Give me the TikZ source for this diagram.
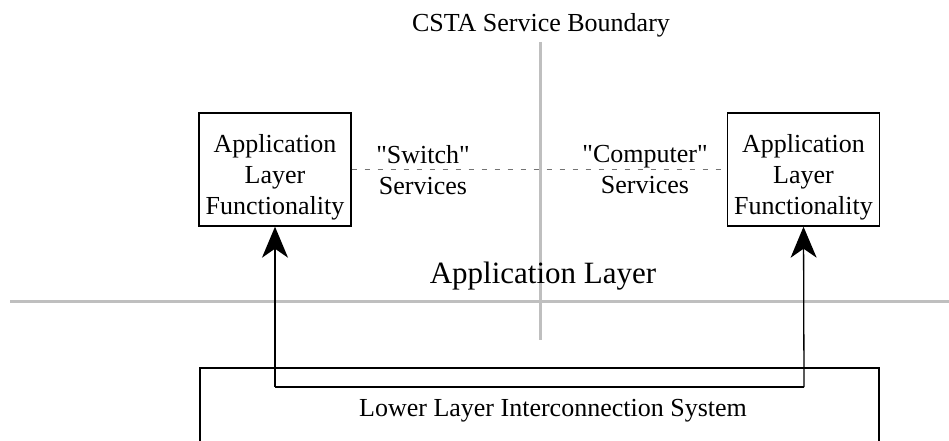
\documentclass[tikz,border=0pt]{standalone}
\usepackage{fontspec}
\setmainfont{Liberation Serif}
\usetikzlibrary{arrows.meta}
\begin{document}
\begin{tikzpicture}[x=1pt,y=-1pt,
  txt/.style={font=\fontsize{26}{31}\selectfont, inner sep=0pt, align=center},
  funcbox/.style={draw, line width=1.4pt, minimum width=152pt, minimum height=113pt, inner sep=0pt},
  boundary/.style={draw=black!25, line width=3pt},
  link/.style={line width=1.3pt, -{Stealth[length=31pt,width=26pt,inset=9pt]}},
  svc/.style={draw=black!55, line width=1pt, dash pattern=on 5pt off 8pt}
]
\useasboundingbox (0,0) rectangle (949,441);
\node[txt] (title) at (541,25) {CSTA Service Boundary};
\coordinate (vtop) at (540,42);
\coordinate (vbot) at (540,340);
\coordinate (hl) at (10,301);
\coordinate (hr) at (949,301);
\draw[boundary] (vtop) -- (vbot);
\draw[boundary] (hl) -- (hr);
\node[funcbox] (lbox) at (275,169.5) {};
\node[funcbox] (rbox) at (803.5,169.5) {};
\node[txt] (ltext) at ([yshift=-8pt]lbox.center) {Application\\Layer\\Functionality};
\node[txt] (rtext) at ([yshift=-8pt]rbox.center) {Application\\Layer\\Functionality};
\draw[svc] (lbox.east) -- (rbox.west);
\node[txt] (sw) at (423,170) {\textquotedbl Switch\textquotedbl\\Services};
\node[txt] (cp) at (645,170) {\textquotedbl Computer\textquotedbl\\Services};
\node[txt, font=\fontsize{31}{36}\selectfont] (al) at (543,276) {Application Layer};
\coordinate (lbtl) at (200,441);
\coordinate (lbtop) at (200,368);
\coordinate (lbtr) at (879,368);
\coordinate (lbbr) at (879,441);
\draw[line width=1.4pt] (lbtl) -- (lbtop) -- (lbtr) -- (lbbr);
\node[txt] (lower) at (553,411) {Lower Layer Interconnection System};
\coordinate (cl) at (275,387);
\coordinate (cr) at (804,387);
\draw[line width=1.3pt] (cl) -- (cr);
\draw[link] (cl) -- (lbox.south);
\draw[link] (cr) -- (rbox.south);
\end{tikzpicture}
\end{document}
